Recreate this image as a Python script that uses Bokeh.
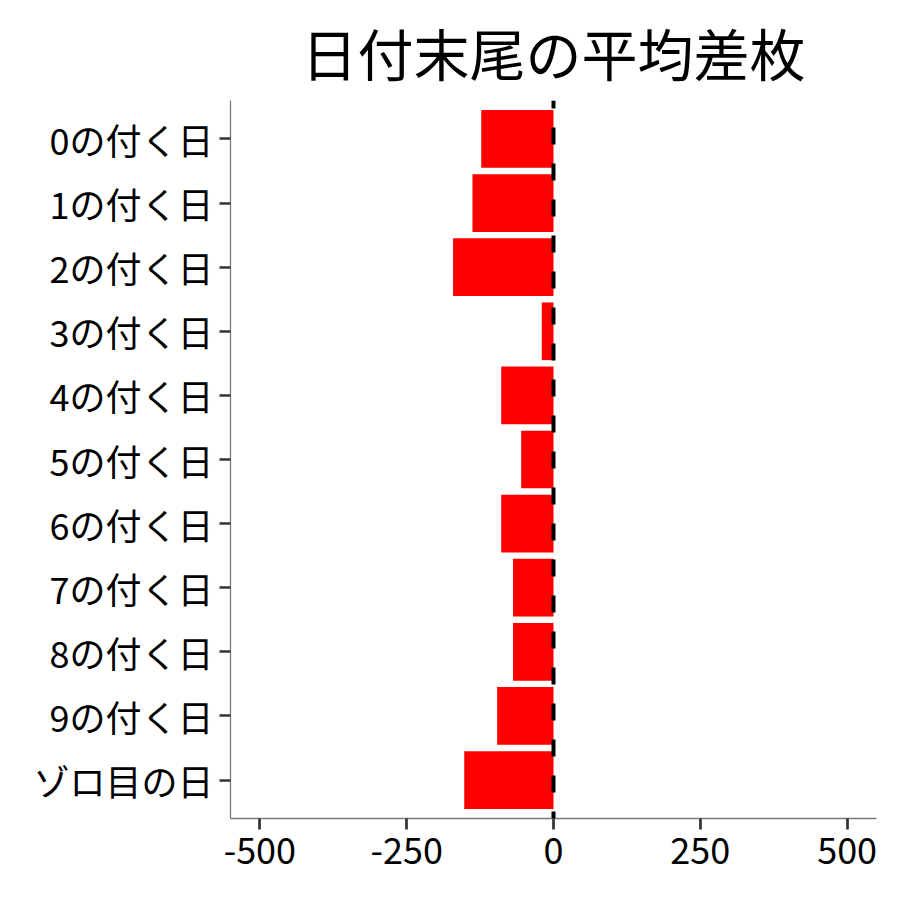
from bokeh.plotting import figure
from bokeh.models import ColumnDataSource, FactorRange, Range1d, FixedTicker, Span
from bokeh.embed import file_html
from bokeh.resources import INLINE

# ── Data ─────────────────────────────────────────────────────────
categories = ['0の付く日', '1の付く日', '2の付く日', '3の付く日', '4の付く日',
              '5の付く日', '6の付く日', '7の付く日', '8の付く日', '9の付く日',
              'ゾロ目の日']
avg_diff = [-123, -138, -171, -20, -89, -55, -89, -69, -69, -96, -152]
x_ticks = [-500, -250, 0, 250, 500]
title_text = '日付末尾の平均差枚'

FONT = 'Noto Sans CJK JP'

source = ColumnDataSource(data={'cat': categories, 'val': avg_diff})

# first category at the top
y_range = FactorRange(*reversed(categories), range_padding=0.2 / len(categories),
                      range_padding_units='percent')

p = figure(width=892, height=892, y_range=y_range, x_range=Range1d(-550, 550),
           output_backend='svg', toolbar_location=None, title=title_text)

p.hbar(y='cat', right='val', left=0, height=0.9, source=source,
       fill_color='#ff0000', line_color=None)

p.add_layout(Span(location=0, dimension='height', line_color='black',
                  line_width=4, line_dash='17 19', line_dash_offset=9))

# ── Styling ──────────────────────────────────────────────────────
p.min_border_left = 230
p.min_border_right = 16
p.min_border_top = 100
p.min_border_bottom = 74
p.outline_line_color = None
p.xgrid.grid_line_color = None
p.ygrid.grid_line_color = None
p.background_fill_color = 'white'
p.border_fill_color = 'white'

p.title.text_font = FONT
p.title.text_font_size = '56px'
p.title.text_font_style = 'normal'
p.title.text_color = 'black'
p.title.align = 'center'
p.title.standoff = 17

p.xaxis.ticker = FixedTicker(ticks=x_ticks)
p.xaxis.major_label_overrides = {t: str(t) for t in x_ticks}
for ax in (p.xaxis, p.yaxis):
    ax.axis_line_color = '#7a7a7a'
    ax.axis_line_width = 1.3
    ax.major_tick_line_color = '#333333'
    ax.major_tick_line_width = 2.7
    ax.major_tick_out = 11
    ax.major_tick_in = 0
    ax.minor_tick_line_color = None
    ax.major_label_text_font = FONT
    ax.major_label_text_font_size = '36px'
    ax.major_label_text_color = 'black'
    ax.major_label_standoff = 6
p.xaxis.major_label_standoff = 8

open('out.html', 'w').write(file_html(p, INLINE))
